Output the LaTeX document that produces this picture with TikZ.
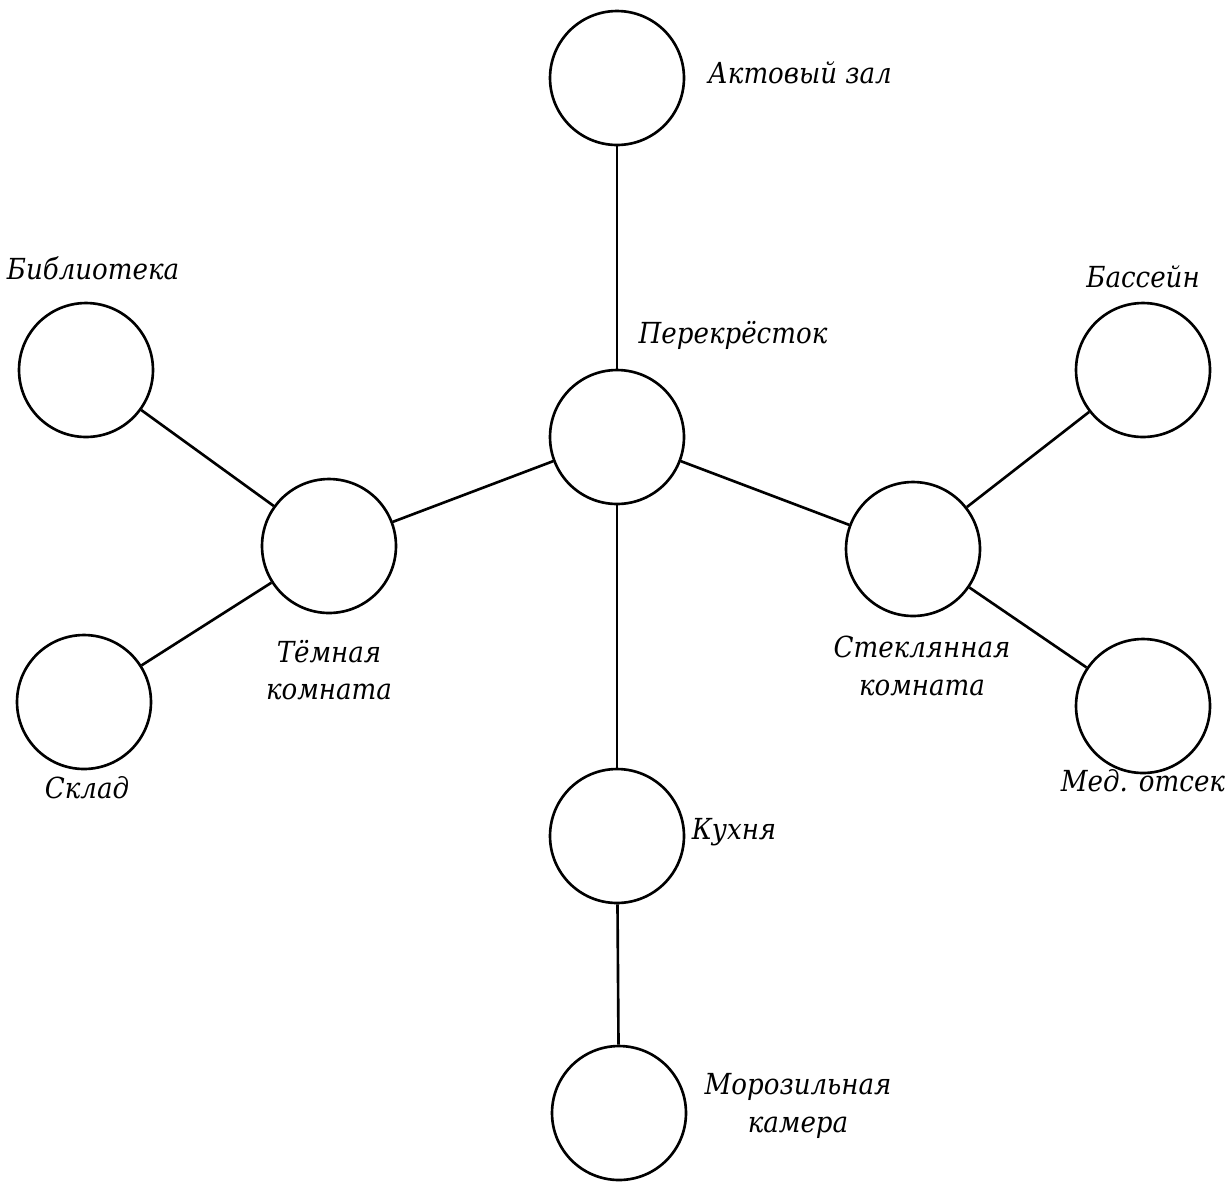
\documentclass[tikz,border=0pt]{standalone}
\usepackage{fontspec}
\setmainfont{DejaVu Serif Condensed}
\tikzset{
    room/.style={circle, draw, line width=1.5pt, minimum size=2.68cm, inner sep=0pt},
    link/.style={line width=1.5pt},
    roomname/.style={font=\itshape\fontsize{16.5}{21.5}\selectfont, align=center, inner sep=0pt}
}
\begin{document}
\begin{tikzpicture}[x=0.02cm, y=-0.02cm]
    \useasboundingbox (0,0) rectangle (1227,1181);

    \node[room] (akt) at (617, 78) {};
    \node[room] (cross) at (617, 437) {};
    \node[room] (lib) at (86, 370) {};
    \node[room] (dark) at (329, 546) {};
    \node[room] (store) at (84, 702) {};
    \node[room] (pool) at (1143, 370) {};
    \node[room] (glass) at (913, 549) {};
    \node[room] (med) at (1143, 706) {};
    \node[room] (kitchen) at (617, 836) {};
    \node[room] (freezer) at (619, 1113) {};

    \draw[link] (akt) -- (cross);
    \draw[link] (cross) -- (dark);
    \draw[link] (cross) -- (glass);
    \draw[link] (cross) -- (kitchen);
    \draw[link] (dark) -- (lib);
    \draw[link] (dark) -- (store);
    \draw[link] (glass) -- (pool);
    \draw[link] (glass) -- (med);
    \draw[link] (kitchen) -- (freezer);

    \node[roomname] (aktname) at (800, 73) {Актовый зал};
    \node[roomname] (crossname) at (733, 335) {Перекрёсток};
    \node[roomname] (libname) at (93, 268) {Библиотека};
    \node[roomname] (darkname) at (329, 670) {Тёмная\\комната};
    \node[roomname] (storename) at (87, 788) {Склад};
    \node[roomname] (poolname) at (1143, 277) {Бассейн};
    \node[roomname] (glassname) at (922, 666) {Стеклянная\\комната};
    \node[roomname] (medname) at (1143, 781) {Мед. отсек};
    \node[roomname] (kitchenname) at (734, 832) {Кухня};
    \node[roomname] (freezername) at (798, 1106) {Морозильная\\камера};

\end{tikzpicture}
\end{document}
